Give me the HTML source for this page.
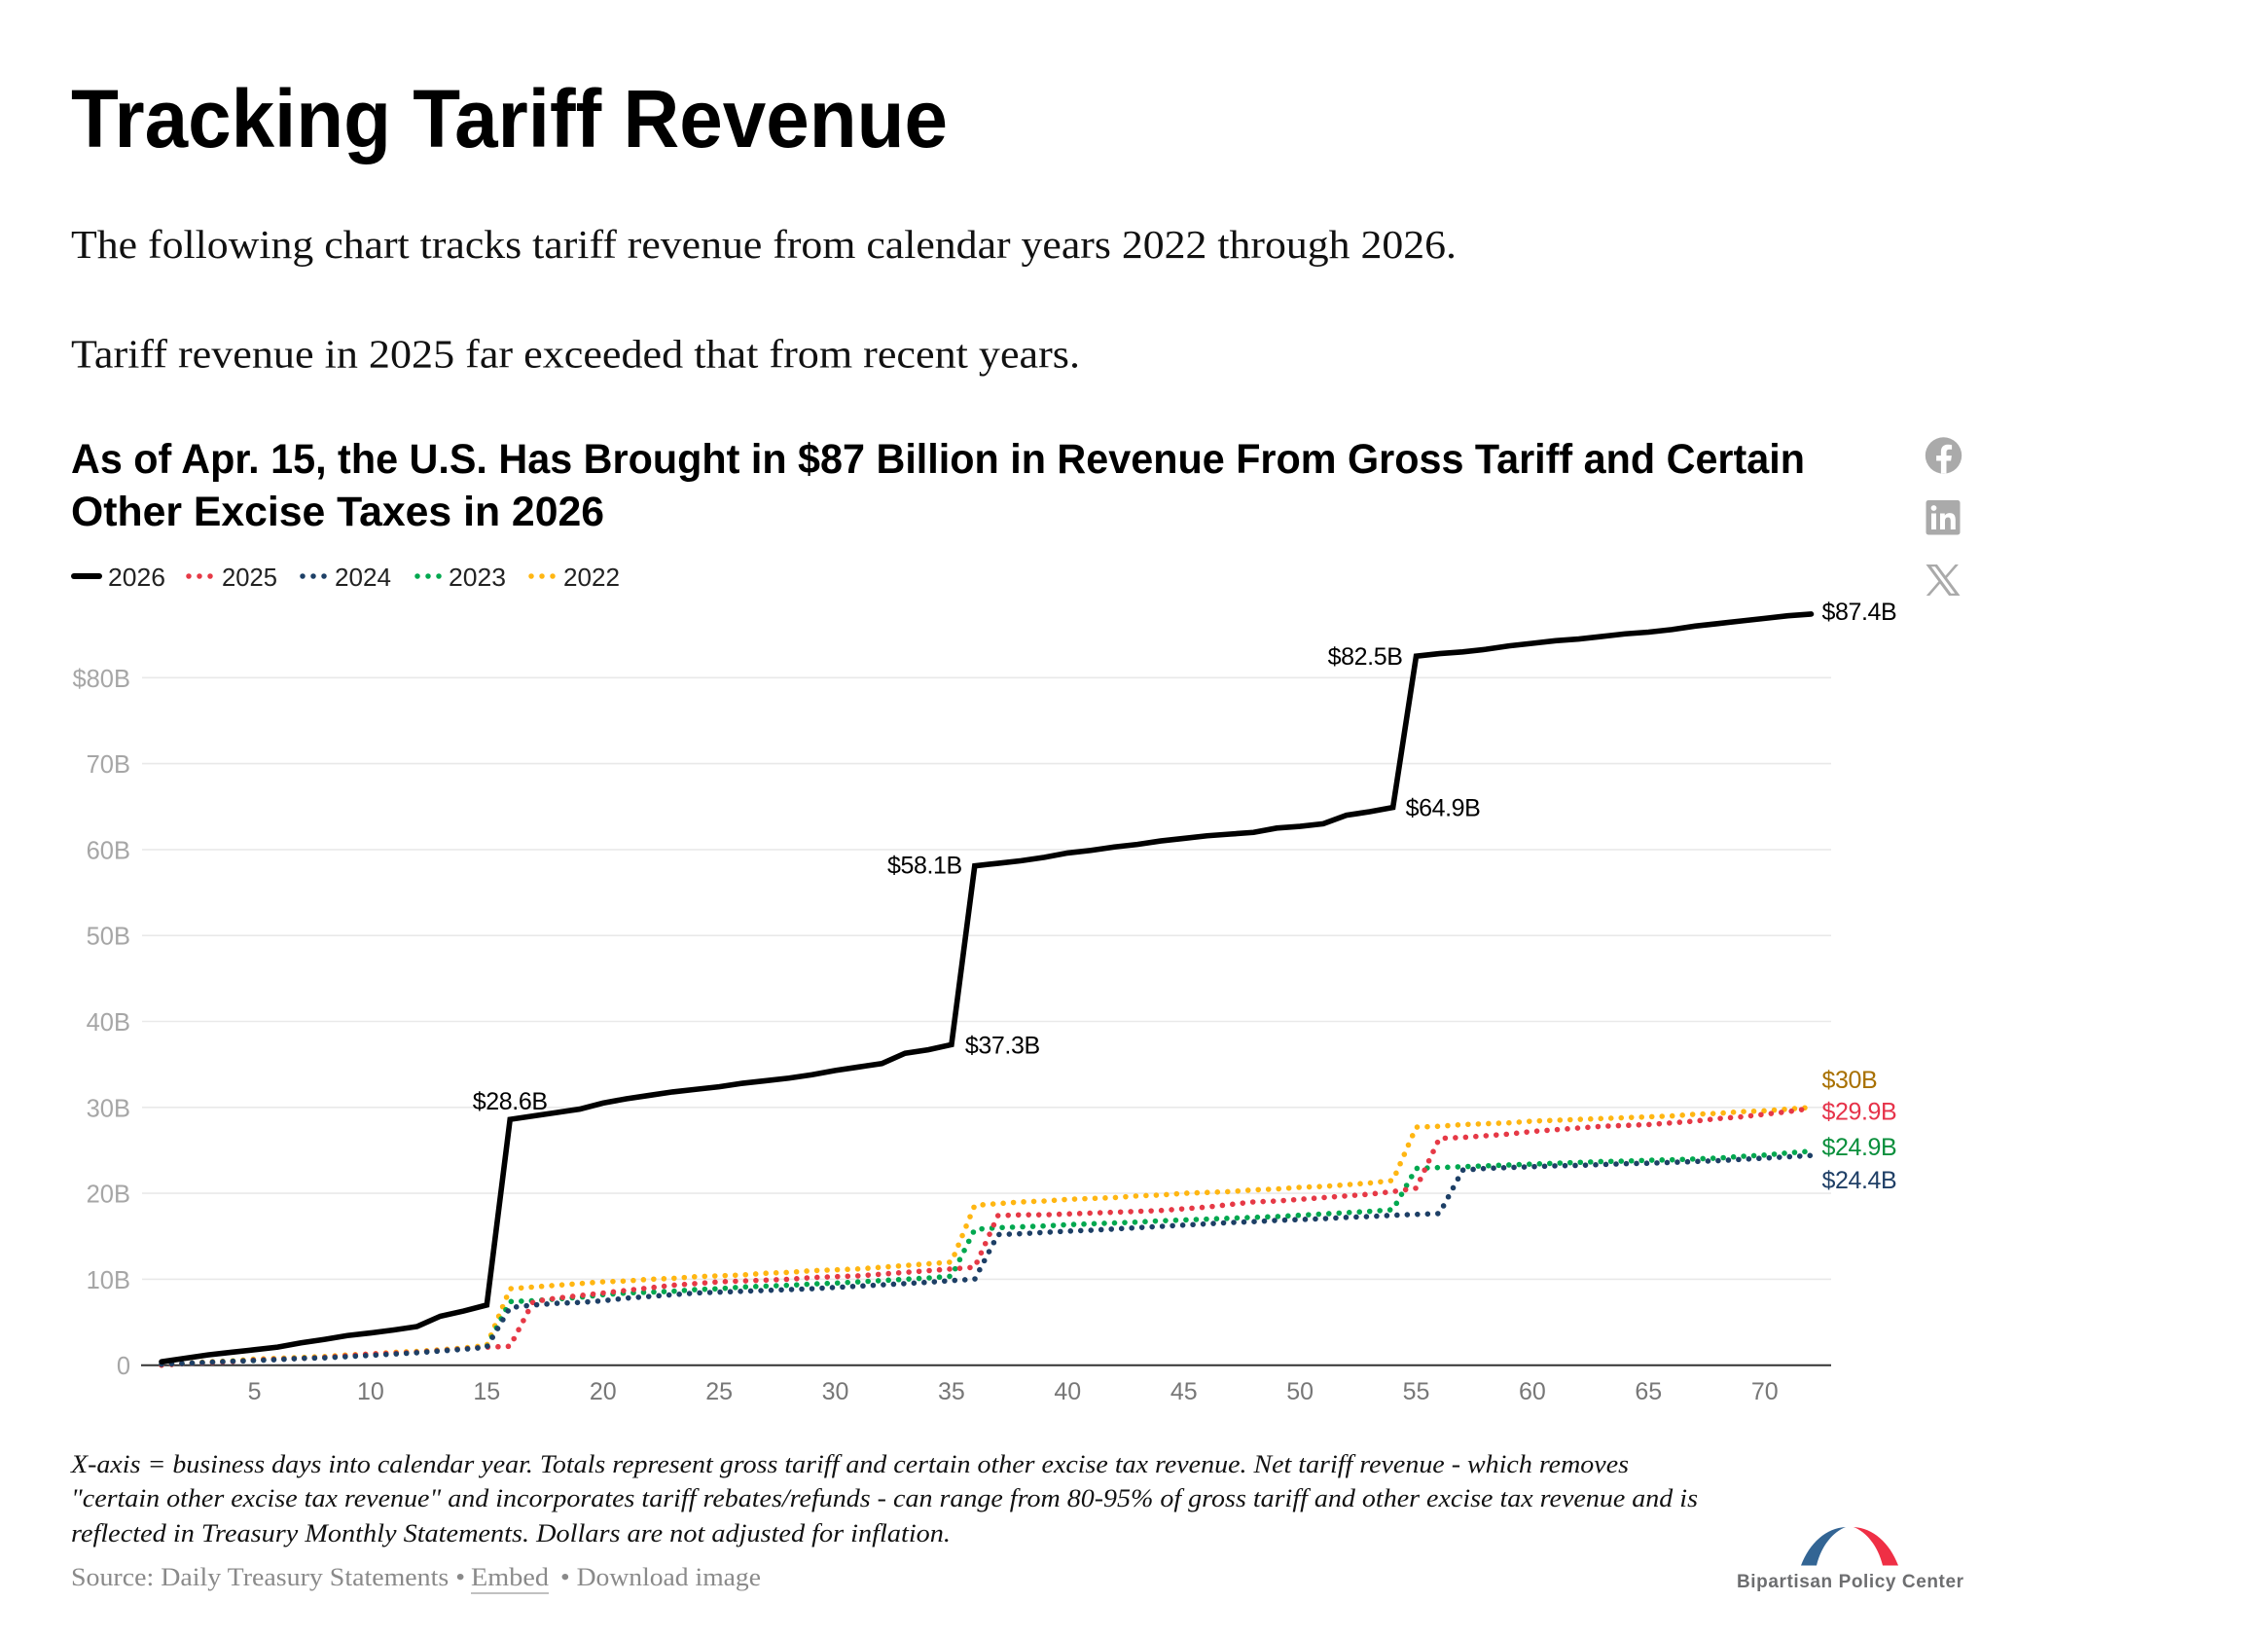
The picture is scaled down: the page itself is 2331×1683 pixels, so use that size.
<!DOCTYPE html>
<html lang="en">
<head>
<meta charset="utf-8">
<title>Tracking Tariff Revenue</title>
<style>
html,body{margin:0;padding:0;background:#fff;}
svg{display:block;}
.sans{font-family:"Liberation Sans",sans-serif;}
.serif{font-family:"Liberation Serif",serif;}
</style>
</head>
<body>
<svg id="page" xmlns="http://www.w3.org/2000/svg" width="2331" height="1683" viewBox="0 0 2331 1683">
  <rect x="0" y="0" width="2331" height="1683" fill="#ffffff"/>

  <text class="sans" x="73" y="151" font-size="84" font-weight="700" fill="#000" textLength="901" lengthAdjust="spacingAndGlyphs">Tracking Tariff Revenue</text>
  <text class="serif" x="73" y="265" font-size="41" fill="#111" textLength="1424" lengthAdjust="spacingAndGlyphs">The following chart tracks tariff revenue from calendar years 2022 through 2026.</text>
  <text class="serif" x="73" y="377.5" font-size="41" fill="#111" textLength="1037" lengthAdjust="spacingAndGlyphs">Tariff revenue in 2025 far exceeded that from recent years.</text>

  <text class="sans" x="73" y="486" font-size="43" font-weight="700" fill="#000" textLength="1782" lengthAdjust="spacingAndGlyphs">As of Apr. 15, the U.S. Has Brought in $87 Billion in Revenue From Gross Tariff and Certain</text>
  <text class="sans" x="73" y="540" font-size="43" font-weight="700" fill="#000" textLength="548" lengthAdjust="spacingAndGlyphs">Other Excise Taxes in 2026</text>

  <g class="sans" font-size="26" fill="#222">
    <g>
      <line x1="76" y1="592" x2="102" y2="592" stroke="#000" stroke-width="6" stroke-linecap="round"/>
      <text x="111" y="602" textLength="59" lengthAdjust="spacingAndGlyphs">2026</text>
    </g>
    <g>
      <line x1="194" y1="592" x2="218" y2="592" stroke="#e63946" stroke-width="5.5" stroke-linecap="round" stroke-dasharray="0 11"/>
      <text x="228" y="602" textLength="57" lengthAdjust="spacingAndGlyphs">2025</text>
    </g>
    <g>
      <line x1="311" y1="592" x2="335" y2="592" stroke="#1d3f66" stroke-width="5.5" stroke-linecap="round" stroke-dasharray="0 11"/>
      <text x="344" y="602" textLength="58" lengthAdjust="spacingAndGlyphs">2024</text>
    </g>
    <g>
      <line x1="429" y1="592" x2="453" y2="592" stroke="#00a84f" stroke-width="5.5" stroke-linecap="round" stroke-dasharray="0 11"/>
      <text x="461" y="602" textLength="59" lengthAdjust="spacingAndGlyphs">2023</text>
    </g>
    <g>
      <line x1="546" y1="592" x2="570" y2="592" stroke="#ffb612" stroke-width="5.5" stroke-linecap="round" stroke-dasharray="0 11"/>
      <text x="579" y="602" textLength="58" lengthAdjust="spacingAndGlyphs">2022</text>
    </g>
  </g>

  <g id="chart"></g>

  <g>
    <circle cx="1997.5" cy="468" r="18.7" fill="#aaaaaa"/>
    <path d="M2000.5 486.5v-13h4.6l.8-5.4h-5.4v-3.4c0-1.6.7-2.9 3-2.9h2.6v-4.6c-1.4-.2-2.8-.4-4.2-.4-4.3 0-7 2.6-7 7.3v4h-4.8v5.4h4.8v13z" fill="#ffffff"/>
  </g>
  <g>
    <rect x="1979.5" y="514" width="35" height="35.5" rx="2.5" fill="#aaaaaa"/>
    <rect x="1985" y="527.5" width="5" height="16.5" fill="#ffffff"/>
    <circle cx="1987.5" cy="522" r="2.9" fill="#ffffff"/>
    <path d="M1994 527.5h4.8v2.3c.9-1.6 2.7-2.7 5-2.7 4.6 0 6 2.8 6 7.2v9.7h-5v-8.7c0-2.2-.6-3.8-2.6-3.8-2.2 0-3.2 1.6-3.2 3.8v8.7h-5z" fill="#ffffff"/>
  </g>
  <g>
    <path fill-rule="evenodd" d="M1979.5 580h11.4l8.6 11.6 10-11.6h3.4l-11.9 13.7 13.5 18.3h-11.4l-9.2-12.4-10.7 12.4h-3.4l12.6-14.6zM1985 582.2l20.2 27.6h4l-20.3-27.6z" fill="#aaaaaa"/>
  </g>

  <g class="serif" font-size="26" font-style="italic" fill="#111">
    <text x="73" y="1513" textLength="1601" lengthAdjust="spacingAndGlyphs">X-axis = business days into calendar year. Totals represent gross tariff and certain other excise tax revenue. Net tariff revenue - which removes</text>
    <text x="73" y="1548" textLength="1672" lengthAdjust="spacingAndGlyphs">"certain other excise tax revenue" and incorporates tariff rebates/refunds - can range from 80-95% of gross tariff and other excise tax revenue and is</text>
    <text x="73" y="1584" textLength="904" lengthAdjust="spacingAndGlyphs">reflected in Treasury Monthly Statements. Dollars are not adjusted for inflation.</text>
  </g>

  <g class="serif" font-size="26" fill="#8a8a8a">
    <text x="73" y="1629" textLength="405" lengthAdjust="spacingAndGlyphs">Source: Daily Treasury Statements •</text>
    <text x="484" y="1629" textLength="80" lengthAdjust="spacingAndGlyphs">Embed</text>
    <line x1="484" y1="1637" x2="564" y2="1637" stroke="#9a9a9a" stroke-width="1.2"/>
    <text x="576" y="1629" textLength="206" lengthAdjust="spacingAndGlyphs">• Download image</text>
  </g>

  <g>
    <path d="M1851 1608.5C1860 1585 1877 1570 1897 1569C1884 1574 1872 1588 1867 1608.5Z" fill="#336594"/>
    <path d="M1951 1608.5C1942 1585 1925 1570 1905 1569C1918 1574 1930 1588 1935 1608.5Z" fill="#ef2f45"/>
    <text class="sans" x="1785" y="1631" font-size="19" font-weight="700" fill="#6d6e70" textLength="233" lengthAdjust="spacing">Bipartisan Policy Center</text>
  </g>
</svg>

<script>
const days = [1,2,3,4,5,6,7,8,9,10,11,12,13,14,15,16,17,18,19,20,21,22,23,24,25,26,27,28,29,30,31,32,33,34,35,36,37,38,39,40,41,42,43,44,45,46,47,48,49,50,51,52,53,54,55,56,57,58,59,60,61,62,63,64,65,66,67,68,69,70,71,72];
const revenue2026 = [0.4,0.8,1.2,1.5,1.8,2.1,2.6,3.0,3.45,3.75,4.1,4.5,5.7,6.3,7.0,28.6,29.0,29.4,29.8,30.5,31.0,31.4,31.8,32.1,32.4,32.8,33.1,33.4,33.8,34.3,34.7,35.1,36.3,36.7,37.3,58.1,58.4,58.7,59.1,59.6,59.9,60.3,60.6,61.0,61.3,61.6,61.8,62.0,62.5,62.7,63.0,64.0,64.4,64.9,82.5,82.8,83.0,83.3,83.7,84.0,84.3,84.5,84.8,85.1,85.3,85.6,86.0,86.3,86.6,86.9,87.2,87.4];
const revenue2025 = [0.0,0.2,0.3,0.4,0.6,0.7,0.8,0.9,1.1,1.3,1.4,1.5,1.7,1.9,2.1,2.2,7.4,7.8,8.1,8.4,8.7,9.0,9.3,9.5,9.7,9.8,9.9,10.0,10.2,10.3,10.4,10.6,10.8,11.0,11.2,11.4,17.4,17.5,17.5,17.6,17.7,17.8,17.9,18.0,18.2,18.4,18.7,19.0,19.1,19.3,19.5,19.7,19.9,20.2,20.6,26.4,26.5,26.7,26.9,27.2,27.4,27.6,27.8,27.9,28.0,28.2,28.4,28.7,28.9,29.2,29.5,29.9];
const revenue2024 = [0.1,0.2,0.35,0.45,0.55,0.65,0.8,0.85,1.0,1.15,1.3,1.45,1.65,1.85,2.1,6.7,7.0,7.2,7.3,7.5,7.8,8.0,8.2,8.4,8.5,8.6,8.7,8.8,8.9,9.05,9.2,9.35,9.5,9.65,9.85,10.0,15.2,15.3,15.45,15.6,15.7,15.85,16.0,16.15,16.3,16.45,16.6,16.7,16.85,16.95,17.05,17.2,17.3,17.45,17.55,17.65,22.7,22.9,23.0,23.1,23.2,23.25,23.35,23.45,23.5,23.6,23.7,23.8,23.95,24.1,24.25,24.4];
const revenue2023 = [0.1,0.2,0.3,0.45,0.55,0.7,0.8,0.9,1.05,1.2,1.35,1.5,1.7,1.9,2.1,7.4,7.5,7.7,7.9,8.2,8.4,8.5,8.6,8.8,8.9,9.1,9.2,9.3,9.45,9.55,9.7,9.85,10.0,10.15,10.35,15.8,16.0,16.1,16.2,16.35,16.45,16.55,16.65,16.8,16.9,17.0,17.1,17.2,17.3,17.45,17.6,17.75,17.9,18.1,22.9,23.0,23.1,23.2,23.3,23.4,23.5,23.6,23.7,23.75,23.85,23.9,24.0,24.1,24.3,24.45,24.7,24.9];
const revenue2022 = [0.0,0.2,0.4,0.5,0.7,0.8,0.9,1.0,1.2,1.3,1.5,1.6,1.8,2.0,2.3,8.9,9.1,9.3,9.5,9.7,9.8,10.0,10.1,10.3,10.4,10.5,10.7,10.8,11.0,11.1,11.2,11.4,11.6,11.8,12.0,18.6,18.8,19.0,19.1,19.3,19.4,19.5,19.7,19.8,20.0,20.1,20.2,20.4,20.5,20.7,20.8,21.0,21.2,21.5,27.7,27.8,28.0,28.1,28.2,28.4,28.5,28.6,28.7,28.8,28.9,29.0,29.2,29.3,29.5,29.6,29.8,30.0];
const xTickValues = [5,10,15,20,25,30,35,40,45,50,55,60,65,70];
const yTickValues = [0,10,20,30,40,50,60,70,80];

const SVG_NS = 'http://www.w3.org/2000/svg';
const chart = document.getElementById('chart');
const plotLeft = 146;
const plotRight = 1882;

function xScale(day) { return 166 + 23.88 * (day - 1); }
function yScale(value) { return 1402.7 - 8.83 * value; }

function make(tag, attrs, parent) {
  const el = document.createElementNS(SVG_NS, tag);
  for (const key in attrs) el.setAttribute(key, attrs[key]);
  (parent || chart).appendChild(el);
  return el;
}

function yTickText(v) {
  if (v === 0) return '0';
  return (v === 80 ? '$' : '') + v + 'B';
}

function drawGrid() {
  for (const v of yTickValues) {
    if (v !== 0) {
      const grid = make('line', {x1: plotLeft, x2: plotRight, y1: yScale(v), y2: yScale(v), stroke: '#e9e9e9', 'stroke-width': 1.6});
      
      
    }
    const label = make('text', {x: 134, y: yScale(v) + 9.5, 'text-anchor': 'end', 'font-family': '"Liberation Sans",sans-serif', 'font-size': 25.5, fill: '#a6a6a6'});
    label.textContent = yTickText(v);
    
    
  }
}

function drawAxis() {
  const axis = make('line', {x1: plotLeft - 1, x2: plotRight, y1: yScale(0), y2: yScale(0), stroke: '#333333', 'stroke-width': 2});
  
  
  for (const d of xTickValues) {
    const label = make('text', {x: xScale(d), y: 1438, 'text-anchor': 'middle', 'font-family': '"Liberation Sans",sans-serif', 'font-size': 25, fill: '#777777'});
    label.textContent = String(d);
    
    
  }
}

function pathFor(values) {
  return values.map(function (v, i) {
    return (i === 0 ? 'M' : 'L') + xScale(days[i]).toFixed(2) + ' ' + yScale(v).toFixed(2);
  }).join(' ');
}

function drawDotted(values, color, name) {
  const line = make('path', {d: pathFor(values), fill: 'none', stroke: color, 'stroke-width': 5.6, 'stroke-linecap': 'round', 'stroke-linejoin': 'round', 'stroke-dasharray': '0 10.5'});
  
  
}

function drawSolid(values, color, name) {
  const line = make('path', {d: pathFor(values), fill: 'none', stroke: color, 'stroke-width': 5.6, 'stroke-linecap': 'round', 'stroke-linejoin': 'miter'});
  
  
}

function drawValueLabel(values, day, color, anchor, dx, dy, name) {
  const value = values[days.indexOf(day)];
  const label = make('text', {x: xScale(day) + dx, y: yScale(value) + dy, 'text-anchor': anchor, 'font-family': '"Liberation Sans",sans-serif', 'font-size': 25, 'letter-spacing': '-0.4', fill: color});
  label.textContent = '$' + value + 'B';
  
  
}

drawGrid();
drawAxis();
drawDotted(revenue2022, '#ffb612', 'series-line-2022');
drawDotted(revenue2023, '#00a84f', 'series-line-2023');
drawDotted(revenue2025, '#e63946', 'series-line-2025');
drawDotted(revenue2024, '#1d3f66', 'series-line-2024');
drawSolid(revenue2026, '#000000', 'series-line-2026');

drawValueLabel(revenue2026, 16, '#000', 'middle', 0, -10, 'label-2026-day-16');
drawValueLabel(revenue2026, 35, '#000', 'start', 14, 9, 'label-2026-day-35');
drawValueLabel(revenue2026, 36, '#000', 'end', -13, 8, 'label-2026-day-36');
drawValueLabel(revenue2026, 54, '#000', 'start', 13, 9, 'label-2026-day-54');
drawValueLabel(revenue2026, 55, '#000', 'end', -14, 9, 'label-2026-day-55');
drawValueLabel(revenue2026, 72, '#000', 'start', 11, 6, 'end-label-2026');
drawValueLabel(revenue2022, 72, '#a87000', 'start', 11, -20, 'end-label-2022');
drawValueLabel(revenue2025, 72, '#e6334a', 'start', 11, 12, 'end-label-2025');
drawValueLabel(revenue2023, 72, '#0a8f3c', 'start', 11, 4, 'end-label-2023');
drawValueLabel(revenue2024, 72, '#1f3f66', 'start', 11, 34, 'end-label-2024');
</script>
</body>
</html>
